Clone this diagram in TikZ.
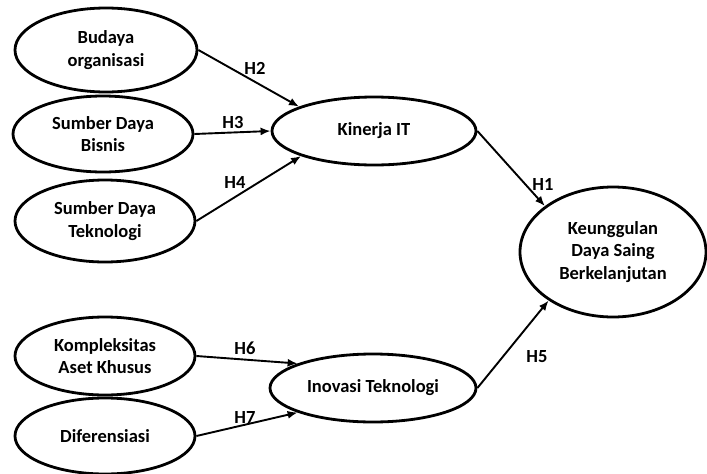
\documentclass[tikz,border=0pt]{standalone}
\usepackage{fontspec}
\setmainfont{Carlito}
\usepackage{tikz}
\usetikzlibrary{arrows.meta,shapes.geometric}
\newcommand{\ukuranteks}{\fontsize{18.5}{22.5}\selectfont}
\tikzset{
  konstruk/.style={ellipse,draw=black,line width=2.8pt,align=center,inner sep=0pt,font=\ukuranteks\bfseries},
  panah/.style={-{Latex[length=10pt,width=8pt]},line width=1.9pt,draw=black},
  hipo/.style={font=\ukuranteks\bfseries,inner sep=0pt}
}
\begin{document}
\begin{tikzpicture}[x=1pt,y=-1pt]
    \useasboundingbox (0,0) rectangle (707,474);
    % variabel eksogen
    \node[konstruk,minimum width=182pt,minimum height=84pt] (budaya) at (106,50) {Budaya\\organisasi};
    \node[konstruk,minimum width=180pt,minimum height=76pt] (bisnis) at (103,134) {Sumber Daya\\Bisnis};
    \node[konstruk,minimum width=180pt,minimum height=82pt] (teknologi) at (105,221) {Sumber Daya\\Teknologi};
    \node[konstruk,minimum width=180pt,minimum height=78pt] (aset) at (105,356) {Kompleksitas\\Aset Khusus};
    \node[konstruk,minimum width=180pt,minimum height=76pt] (diferensiasi) at (105,436) {Diferensiasi};
    % variabel mediasi dan endogen
    \node[konstruk,minimum width=204pt,minimum height=68pt] (kinerja) at (374,131) {Kinerja IT};
    \node[konstruk,minimum width=206pt,minimum height=68pt] (inovasi) at (373,388) {Inovasi Teknologi};
    \node[konstruk,minimum width=186pt,minimum height=130pt] (unggul) at (613,252) {Keunggulan\\Daya Saing\\Berkelanjutan};
    % hubungan
    \draw[panah] (budaya.east) -- (kinerja.162);
    \draw[panah] (bisnis.east) -- (kinerja.west);
    \draw[panah] (teknologi.east) -- (kinerja.199);
    \draw[panah] (kinerja.east) -- (unggul.146);
    \draw[panah] (inovasi.east) -- (unggul.217);
    \draw[panah] (aset.east) -- (inovasi.162);
    \draw[panah] (diferensiasi.east) -- (inovasi.198);
    % label hipotesis
    \node[hipo] (h1) at (543,184) {H1};
    \node[hipo] (h2) at (255,68) {H2};
    \node[hipo] (h3) at (233,122) {H3};
    \node[hipo] (h4) at (235,182) {H4};
    \node[hipo] (h5) at (537,357) {H5};
    \node[hipo] (h6) at (245,348) {H6};
    \node[hipo] (h7) at (245,417) {H7};
  \end{tikzpicture}
\end{document}
